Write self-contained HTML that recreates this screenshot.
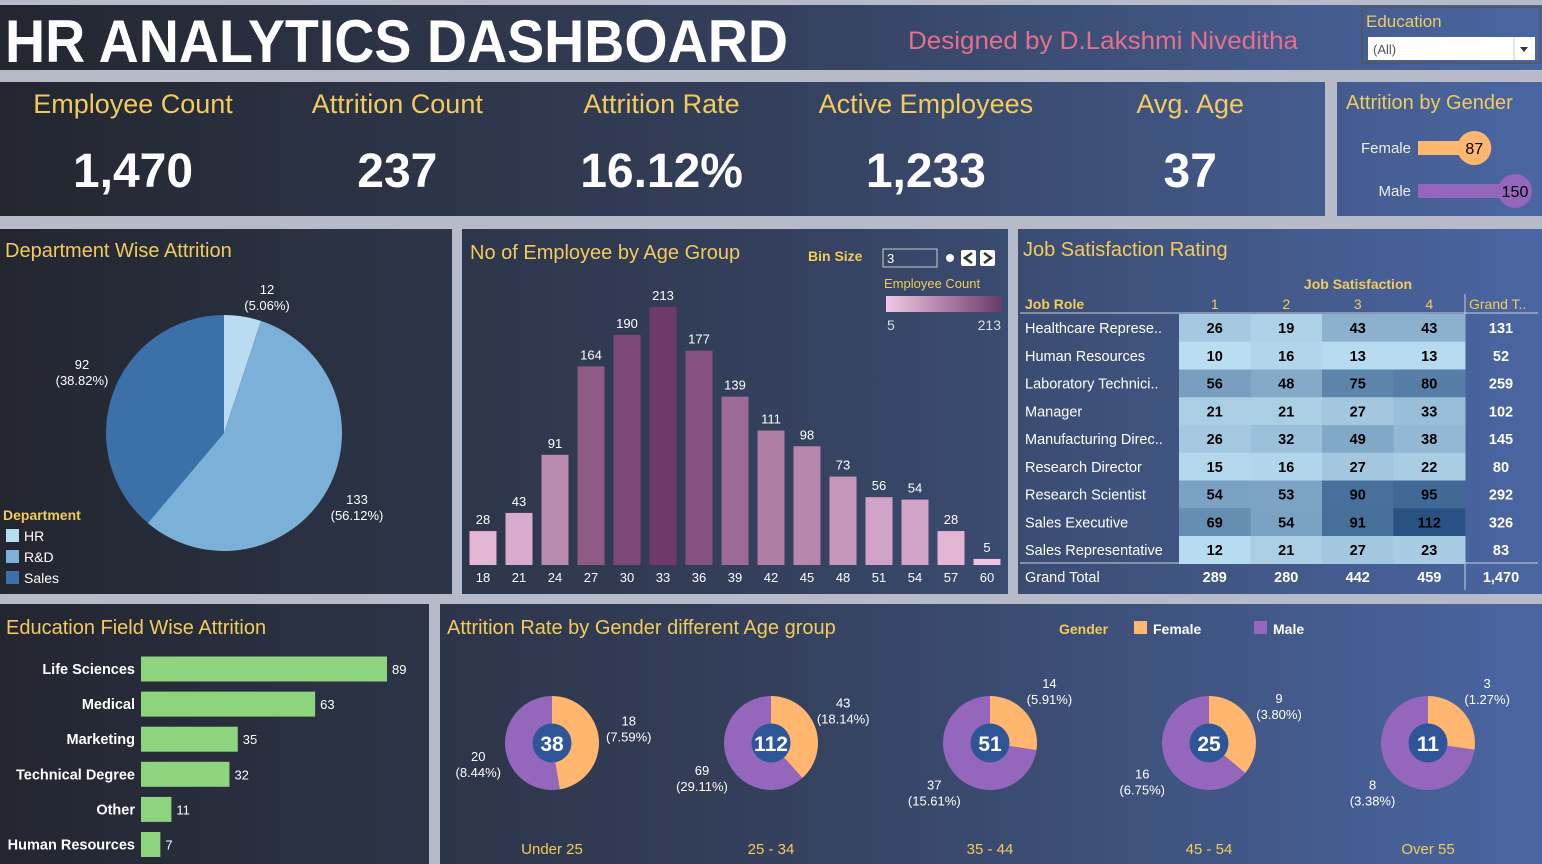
<!DOCTYPE html>
<html><head><meta charset="utf-8"><style>
html,body{margin:0;padding:0;width:1542px;height:864px;overflow:hidden;background:#b6bac9;}
svg{display:block;font-family:"Liberation Sans",sans-serif;}
</style></head><body>
<svg id="dash" width="1542" height="864" viewBox="0 0 1542 864" xmlns="http://www.w3.org/2000/svg">
<defs>
<linearGradient id="bg" gradientUnits="userSpaceOnUse" x1="0" y1="0" x2="1542" y2="0">
<stop offset="0" stop-color="#23262f"/><stop offset="0.5" stop-color="#34405c"/><stop offset="1" stop-color="#4a66a2"/></linearGradient>
<linearGradient id="leg" x1="0" x2="1" y1="0" y2="0"><stop offset="0" stop-color="#f0c8e4"/><stop offset="1" stop-color="#6e3a6a"/></linearGradient>
</defs>
<g fill="url(#bg)">
<rect x="0" y="5" width="1542" height="65"/>
<rect x="0" y="82" width="1325" height="134"/>
<rect x="1337" y="82" width="205" height="134"/>
<rect x="0" y="229" width="452" height="365"/>
<rect x="462" y="229" width="546" height="365"/>
<rect x="1018" y="229" width="524" height="365"/>
<rect x="0" y="604" width="429" height="260"/>
<rect x="440" y="604" width="1102" height="260"/>
</g>
<text x="5" y="62" font-size="60" font-weight="bold" fill="#fff" textLength="783" lengthAdjust="spacingAndGlyphs">HR ANALYTICS DASHBOARD</text>
<text x="908" y="49" font-size="25" fill="#e4708e" textLength="390" lengthAdjust="spacingAndGlyphs">Designed by D.Lakshmi Niveditha</text>
<g>
<rect x="1362" y="7" width="178" height="56" fill="none" stroke="#555" stroke-width="1.5"/>
<text x="1366" y="27" font-size="17" fill="#f2cb5e">Education</text>
<rect x="1368" y="37" width="167" height="23" fill="#fff"/>
<text x="1373" y="54" font-size="13" fill="#555">(All)</text>
<line x1="1514" y1="37" x2="1514" y2="60" stroke="#ccc"/>
<path d="M1520 47 L1528 47 L1524 52 Z" fill="#333"/>
</g>
<g id="kpis"></g>
<text x="1346" y="109" font-size="20" fill="#f2cb5e">Attrition by Gender</text>
<g id="gender"></g>
<text x="5" y="257" font-size="20" fill="#f2cb5e">Department Wise Attrition</text>
<g id="pie"></g>
<g font-size="14">
<text x="3" y="520" font-size="14" font-weight="bold" fill="#f2cb5e">Department</text>
<rect x="6" y="529" width="13" height="13" fill="#b8dcf2"/><text x="24" y="541" fill="#fff">HR</text>
<rect x="6" y="550" width="13" height="13" fill="#7bb0d8"/><text x="24" y="562" fill="#fff">R&amp;D</text>
<rect x="6" y="571" width="13" height="13" fill="#3b70a8"/><text x="24" y="583" fill="#fff">Sales</text>
</g>
<text x="470" y="259" font-size="20" fill="#f2cb5e">No of Employee by Age Group</text>
<g>
<text x="808" y="261" font-size="14" font-weight="bold" fill="#f2cb5e">Bin Size</text>
<rect x="883" y="249" width="54" height="18" fill="none" stroke="#ccc"/>
<text x="887" y="263" font-size="13" fill="#fff">3</text>
<circle cx="950" cy="258" r="4" fill="#fff"/>
<rect x="961" y="250" width="15" height="16" fill="#fff" rx="2"/><path d="M972 253 L965 258 L972 263" stroke="#333" stroke-width="2.5" fill="none"/>
<rect x="980" y="250" width="15" height="16" fill="#fff" rx="2"/><path d="M984 253 L991 258 L984 263" stroke="#333" stroke-width="2.5" fill="none"/>
</g>
<g>
<text x="884" y="288" font-size="13" fill="#f2cb5e">Employee Count</text>
<rect x="886" y="296" width="115" height="16" fill="url(#leg)"/>
<text x="887" y="330" font-size="14" fill="#ddd">5</text>
<text x="1001" y="330" font-size="14" fill="#ddd" text-anchor="end">213</text>
</g>
<g id="age"></g>
<text x="1023" y="256" font-size="20" fill="#f2cb5e">Job Satisfaction Rating</text>
<g id="heat"></g>
<text x="6" y="634" font-size="20" fill="#f2cb5e">Education Field Wise Attrition</text>
<g id="edu"></g>
<text x="447" y="634" font-size="20" fill="#f2cb5e">Attrition Rate by Gender different Age group</text>
<g font-size="14" font-weight="bold">
<text x="1059" y="634" fill="#f2cb5e">Gender</text>
<rect x="1134" y="621" width="13" height="13" fill="#ffb66e"/><text x="1153" y="634" fill="#fff">Female</text>
<rect x="1254" y="621" width="13" height="13" fill="#9467bd"/><text x="1273" y="634" fill="#fff">Male</text>
</g>
<g id="donuts"></g>
</svg>
<script>
const kpiLabels=["Employee Count","Attrition Count","Attrition Rate","Active Employees","Avg. Age"];
const kpiValues=["1,470","237","16.12%","1,233","37"];
const genderCats=["Female","Male"];
const genderVals=[87,150];
const deptCats=["HR","R&D","Sales"];
const deptVals=[12,133,92];
const deptPct=["5.06%","56.12%","38.82%"];
const ageCats=[18,21,24,27,30,33,36,39,42,45,48,51,54,57,60];
const ageVals=[28,43,91,164,190,213,177,139,111,98,73,56,54,28,5];
const jobRoles=["Healthcare Represe..","Human Resources","Laboratory Technici..","Manager","Manufacturing Direc..","Research Director","Research Scientist","Sales Executive","Sales Representative"];
const js1=[26,10,56,21,26,15,54,69,12];
const js2=[19,16,48,21,32,16,53,54,21];
const js3=[43,13,75,27,49,27,90,91,27];
const js4=[43,13,80,33,38,22,95,112,23];
const eduCats=["Life Sciences","Medical","Marketing","Technical Degree","Other","Human Resources"];
const eduVals=[89,63,35,32,11,7];
const donutCats=["Under 25","25 - 34","35 - 44","45 - 54","Over 55"];
const donutF=[18,43,14,9,3];
const donutM=[20,69,37,16,8];
const donutFP=["7.59%","18.14%","5.91%","3.80%","1.27%"];
const donutMP=["8.44%","29.11%","15.61%","6.75%","3.38%"];

const NS="http://www.w3.org/2000/svg";
function mk(parent,tag,attrs,text){const e=document.createElementNS(NS,tag);for(const k in attrs)e.setAttribute(k,attrs[k]);if(text!==undefined)e.textContent=text;parent.appendChild(e);return e;}
function lerp(a,b,t){return Math.round(a+(b-a)*t);}
function mix(c1,c2,t){return `rgb(${lerp(c1[0],c2[0],t)},${lerp(c1[1],c2[1],t)},${lerp(c1[2],c2[2],t)})`;}

const kg=document.getElementById('kpis');
kpiLabels.forEach((l,i)=>{const cx=133+i*264.3;
 let t=mk(kg,'text',{x:cx,y:113,'font-size':27,fill:'#f2cb5e','text-anchor':'middle'},l);
 
 let v=mk(kg,'text',{x:cx,y:187,'font-size':48,'font-weight':'bold',fill:'#fff','text-anchor':'middle'},kpiValues[i]);
 });

const gg=document.getElementById('gender');const gx=v=>1418+v/150*97;
const gcol=['#ffb66e','#9467bd'];
genderCats.forEach((c,i)=>{const y=148+i*43;
 mk(gg,'text',{x:1411,y:y+5,'font-size':15,fill:'#eee','text-anchor':'end'},c);
 let b=mk(gg,'rect',{x:1418,y:y-7,width:gx(genderVals[i])-1418,height:14,fill:gcol[i]});
 
 mk(gg,'circle',{cx:gx(genderVals[i]),cy:y,r:17,fill:gcol[i]});
 mk(gg,'text',{x:gx(genderVals[i]),y:y+6,'font-size':16,fill:'#000','text-anchor':'middle'},genderVals[i]);});

const pg=document.getElementById('pie');const pcx=224,pcy=433,pr=118;
const pcol=['#b8dcf2','#7bb0d8','#3b70a8'];
const tot=deptVals.reduce((a,b)=>a+b,0);let a0=0;
const plab=[[267,300],[357,510],[82,375]];
deptVals.forEach((v,i)=>{const a1=a0+v/tot*2*Math.PI;
 const p=(a)=>[pcx+pr*Math.sin(a),pcy-pr*Math.cos(a)];const s=p(a0),e=p(a1);
 let sl=mk(pg,'path',{d:`M${pcx} ${pcy} L${s[0]} ${s[1]} A${pr} ${pr} 0 ${a1-a0>Math.PI?1:0} 1 ${e[0]} ${e[1]} Z`,fill:pcol[i]});
 
 const [lx,ly]=plab[i];
 mk(pg,'text',{x:lx,y:ly-6,'font-size':13,fill:'#fff','text-anchor':'middle'},v);
 mk(pg,'text',{x:lx,y:ly+10,'font-size':13,fill:'#fff','text-anchor':'middle'},'('+deptPct[i]+')');
 a0=a1;});

const ag=document.getElementById('age');const base=565;const ay=v=>base-v*258/213;const ax=i=>483+i*36;
const amin=Math.min(...ageVals),amax=Math.max(...ageVals);
ageCats.forEach((c,i)=>{const v=ageVals[i];const t=(v-amin)/(amax-amin);
 let b=mk(ag,'rect',{x:ax(i)-13.5,y:ay(v),width:27,height:base-ay(v),fill:mix([240,196,226],[110,58,106],t)});
 
 mk(ag,'text',{x:ax(i),y:ay(v)-7,'font-size':13,fill:'#fff','text-anchor':'middle'},v);
 mk(ag,'text',{x:ax(i),y:582,'font-size':13,fill:'#fff','text-anchor':'middle'},c);});

const hg=document.getElementById('heat');const cols=[js1,js2,js3,js4];
const colX=[1179,1250.5,1322,1393.5];const cw=71.5;const rowY=i=>314+i*27.75;
mk(hg,'text',{x:1358,y:289,'font-size':14,'font-weight':'bold',fill:'#f2cb5e','text-anchor':'middle'},'Job Satisfaction');
mk(hg,'text',{x:1025,y:309,'font-size':14,'font-weight':'bold',fill:'#f2cb5e'},'Job Role');
mk(hg,'text',{x:1469,y:309,'font-size':14,fill:'#f2cb5e'},'Grand T..');
mk(hg,'line',{x1:1020,y1:313,x2:1538,y2:313,stroke:'#c8cfe0','stroke-width':1});
mk(hg,'line',{x1:1465,y1:294,x2:1465,y2:590,stroke:'#c8cfe0','stroke-width':1});
mk(hg,'line',{x1:1020,y1:563,x2:1538,y2:563,stroke:'#c8cfe0','stroke-width':1});
const all=[].concat(...cols);const hmin=Math.min(...all),hmax=Math.max(...all);
const colTot=cols.map(c=>c.reduce((a,b)=>a+b,0));
cols.forEach((c,j)=>mk(hg,'text',{x:colX[j]+cw/2,y:309,'font-size':14,fill:'#f2cb5e','text-anchor':'middle'},j+1));
jobRoles.forEach((r,i)=>{const y=rowY(i);
 mk(hg,'text',{x:1025,y:y+19,'font-size':14.5,fill:'#fff'},r);
 let rt=0;
 cols.forEach((c,j)=>{const v=c[i];rt+=v;const t=(v-hmin)/(hmax-hmin);
  let cell=mk(hg,'rect',{x:colX[j],y:y,width:cw+0.5,height:28,fill:mix([186,222,241],[40,82,132],t)});
  
  mk(hg,'text',{x:colX[j]+cw/2,y:y+19,'font-size':14.5,'font-weight':'bold',fill:'#000','text-anchor':'middle'},v);});
 mk(hg,'text',{x:1501,y:y+19,'font-size':14.5,'font-weight':'bold',fill:'#fff','text-anchor':'middle'},rt);});
mk(hg,'text',{x:1025,y:582,'font-size':14.5,fill:'#fff'},'Grand Total');
let gt=0;colTot.forEach((v,j)=>{gt+=v;mk(hg,'text',{x:colX[j]+cw/2,y:582,'font-size':14.5,'font-weight':'bold',fill:'#fff','text-anchor':'middle'},v);});
mk(hg,'text',{x:1501,y:582,'font-size':14.5,'font-weight':'bold',fill:'#fff','text-anchor':'middle'},gt.toLocaleString('en-US'));

const eg=document.getElementById('edu');const ex=v=>141+v*246/89;
eduCats.forEach((c,i)=>{const y=669+i*35.1;
 mk(eg,'text',{x:135,y:y+5,'font-size':14.5,'font-weight':'bold',fill:'#fff','text-anchor':'end'},c);
 let b=mk(eg,'rect',{x:141,y:y-12.5,width:ex(eduVals[i])-141,height:25,fill:'#8ed47e'});
 
 mk(eg,'text',{x:ex(eduVals[i])+5,y:y+5,'font-size':13,fill:'#fff'},eduVals[i]);});

const dg=document.getElementById('donuts');const R=47,cy=743;
donutCats.forEach((c,i)=>{const cx=552+i*219;const f=donutF[i],m=donutM[i],tt=f+m;
 const af=f/tt*2*Math.PI;const p=(a)=>[cx+R*Math.sin(a),cy-R*Math.cos(a)];const e=p(af);
 let fs=mk(dg,'path',{d:`M${cx} ${cy} L${cx} ${cy-R} A${R} ${R} 0 ${af>Math.PI?1:0} 1 ${e[0]} ${e[1]} Z`,fill:'#ffb66e'});
 
 let ms=mk(dg,'path',{d:`M${cx} ${cy} L${e[0]} ${e[1]} A${R} ${R} 0 ${af<Math.PI?1:0} 1 ${cx} ${cy-R} Z`,fill:'#9467bd'});
 
 mk(dg,'circle',{cx:cx,cy:cy,r:19.5,fill:'#2e5597'});
 mk(dg,'text',{x:cx,y:cy+8,'font-size':21,'font-weight':'bold',fill:'#fff','text-anchor':'middle'},tt);
 const fa=af/2;const fx=cx+73*Math.sin(fa)+4,fy=cy-66*Math.cos(fa)-4;
 mk(dg,'text',{x:fx,y:fy-8,'font-size':13,fill:'#fff','text-anchor':'middle'},f);
 mk(dg,'text',{x:fx,y:fy+8,'font-size':13,fill:'#fff','text-anchor':'middle'},'('+donutFP[i]+')');
 const ma=af+(2*Math.PI-af)/2;const mx=cx+76*Math.sin(ma)+2,my=cy-50*Math.cos(ma)+22;
 mk(dg,'text',{x:mx,y:my-8,'font-size':13,fill:'#fff','text-anchor':'middle'},m);
 mk(dg,'text',{x:mx,y:my+8,'font-size':13,fill:'#fff','text-anchor':'middle'},'('+donutMP[i]+')');
 mk(dg,'text',{x:cx,y:854,'font-size':15,fill:'#f2cb5e','text-anchor':'middle'},c);});
</script>
</body></html>
